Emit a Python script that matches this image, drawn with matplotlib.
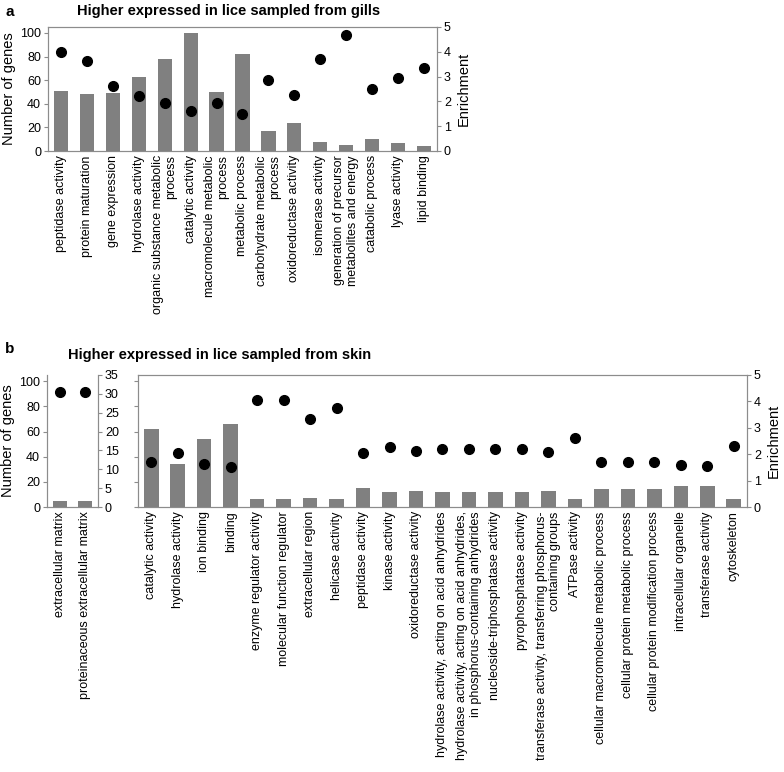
import numpy as np
import matplotlib
matplotlib.use("Agg")
import matplotlib.pyplot as plt

plt.rcParams['font.family'] = ['Liberation Sans', 'DejaVu Sans']
plt.rcParams['font.size'] = 9

# panel a: gills
gill_terms = ["peptidase activity", "protein maturation", "gene expression",
              "hydrolase activity", "organic substance metabolic\nprocess",
              "catalytic activity", "macromolecule metabolic\nprocess",
              "metabolic process", "carbohydrate metabolic\nprocess",
              "oxidoreductase activity", "isomerase activity",
              "generation of precursor\nmetabolites and energy",
              "catabolic process", "lyase activity", "lipid binding"]
gill_genes = [51, 48, 49, 63, 78, 100, 50, 82, 17, 24, 8, 5, 10, 7, 4]
gill_enrich = [3.99, 3.64, 2.63, 2.22, 1.94, 1.6, 1.95, 1.49, 2.88, 2.27,
               3.70, 4.68, 2.51, 2.96, 3.33]

# panel b: skin, cellular component (left small plot)
skin_cc_terms = ["extracellular matrix", "proteinaceous extracellular matrix"]
skin_cc_genes = [5, 5]
skin_cc_enrich = [30.6, 30.6]

# panel b: skin, other terms
skin_terms = ["catalytic activity", "hydrolase activity", "ion binding", "binding",
              "enzyme regulator activity", "molecular function regulator",
              "extracellular region", "helicase activity", "peptidase activity",
              "kinase activity", "oxidoreductase activity",
              "hydrolase activity, acting on acid anhydrides",
              "hydrolase activity, acting on acid anhydrides,\nin phosphorus-containing anhydrides",
              "nucleoside-triphosphatase activity", "pyrophosphatase activity",
              "transferase activity, transferring phosphorus-\ncontaining groups",
              "ATPase activity", "cellular macromolecule metabolic process",
              "cellular protein metabolic process",
              "cellular protein modification process", "intracellular organelle",
              "transferase activity", "cytoskeleton"]
skin_genes = [62, 34, 54, 66, 6, 6, 7, 6, 15, 12, 13, 12, 12, 12, 12, 13, 6,
              14, 14, 14, 17, 17, 6]
skin_enrich = [1.71, 2.04, 1.64, 1.5, 4.06, 4.06, 3.34, 3.74, 2.03, 2.26, 2.14,
               2.21, 2.21, 2.21, 2.21, 2.09, 2.6, 1.72, 1.72, 1.72, 1.58, 1.55, 2.3]

bar_col = "#808080"
spine_col = "#8c8c8c"
W, H = 784, 772


def box(x0, y0, x1, y1):
    # pixel box -> figure fraction
    return [x0 / W, 1 - y1 / H, (x1 - x0) / W, (y1 - y0) / H]


def style(ax, top=True):
    for s in ax.spines.values():
        s.set_color(spine_col)
    ax.spines['top'].set_visible(top)
    ax.tick_params(axis='y', colors='black', length=3, color=spine_col, pad=2)
    ax.tick_params(axis='x', length=0, pad=3)


def draw(ax, terms, genes, enrich, ymax2, yt2, show_left=True, top=True):
    x = np.arange(len(terms))
    ax.bar(x, genes, width=0.55, color=bar_col, zorder=2)
    ax.set_xlim(-0.5, len(terms) - 0.5)
    ax.set_ylim(0, 105)
    ax.set_yticks(np.arange(0, 101, 20))
    if not show_left:
        ax.set_yticklabels([])
    ax.set_xticks(x)
    ax.set_xticklabels(terms, rotation=90, ha='center', va='top',
                       multialignment='right')
    ax2 = ax.twinx()
    ax2.plot(x, enrich, 'o', color='black', markersize=7, zorder=3)
    ax2.set_ylim(0, ymax2)
    ax2.set_yticks(yt2)
    style(ax, top)
    style(ax2, top)
    return ax2


fig = plt.figure(figsize=(7.84, 7.72), dpi=100)

ax_a = fig.add_axes(box(48, 27, 437, 151))
ax_a2 = draw(ax_a, gill_terms, gill_genes, gill_enrich, 5, range(0, 6))
ax_a.set_ylabel("Number of genes", fontsize=10.5, labelpad=3)
ax_a2.set_ylabel("Enrichment", fontsize=10.5, labelpad=4)

ax_b1 = fig.add_axes(box(47, 375, 98, 507))
draw(ax_b1, skin_cc_terms, skin_cc_genes, skin_cc_enrich, 35,
     range(0, 36, 5), top=False)
ax_b1.set_ylabel("Number of genes", fontsize=10.5, labelpad=3)

ax_b2 = fig.add_axes(box(138, 375, 747, 507))
ax_b3 = draw(ax_b2, skin_terms, skin_genes, skin_enrich, 5, range(0, 6),
             show_left=False)
ax_b3.set_ylabel("Enrichment", fontsize=10.5, labelpad=4)

fig.text(5 / W, 1 - 12 / H, "a", fontsize=11, fontweight='bold', va='center')
fig.text(229 / W, 1 - 11 / H, "Higher expressed in lice sampled from gills",
         fontsize=10.5, fontweight='bold', ha='center', va='center')
fig.text(5 / W, 1 - 349 / H, "b", fontsize=11, fontweight='bold', va='center')
fig.text(220 / W, 1 - 355 / H, "Higher expressed in lice sampled from skin",
         fontsize=10.5, fontweight='bold', ha='center', va='center')

fig.savefig("out.png", dpi=100)
